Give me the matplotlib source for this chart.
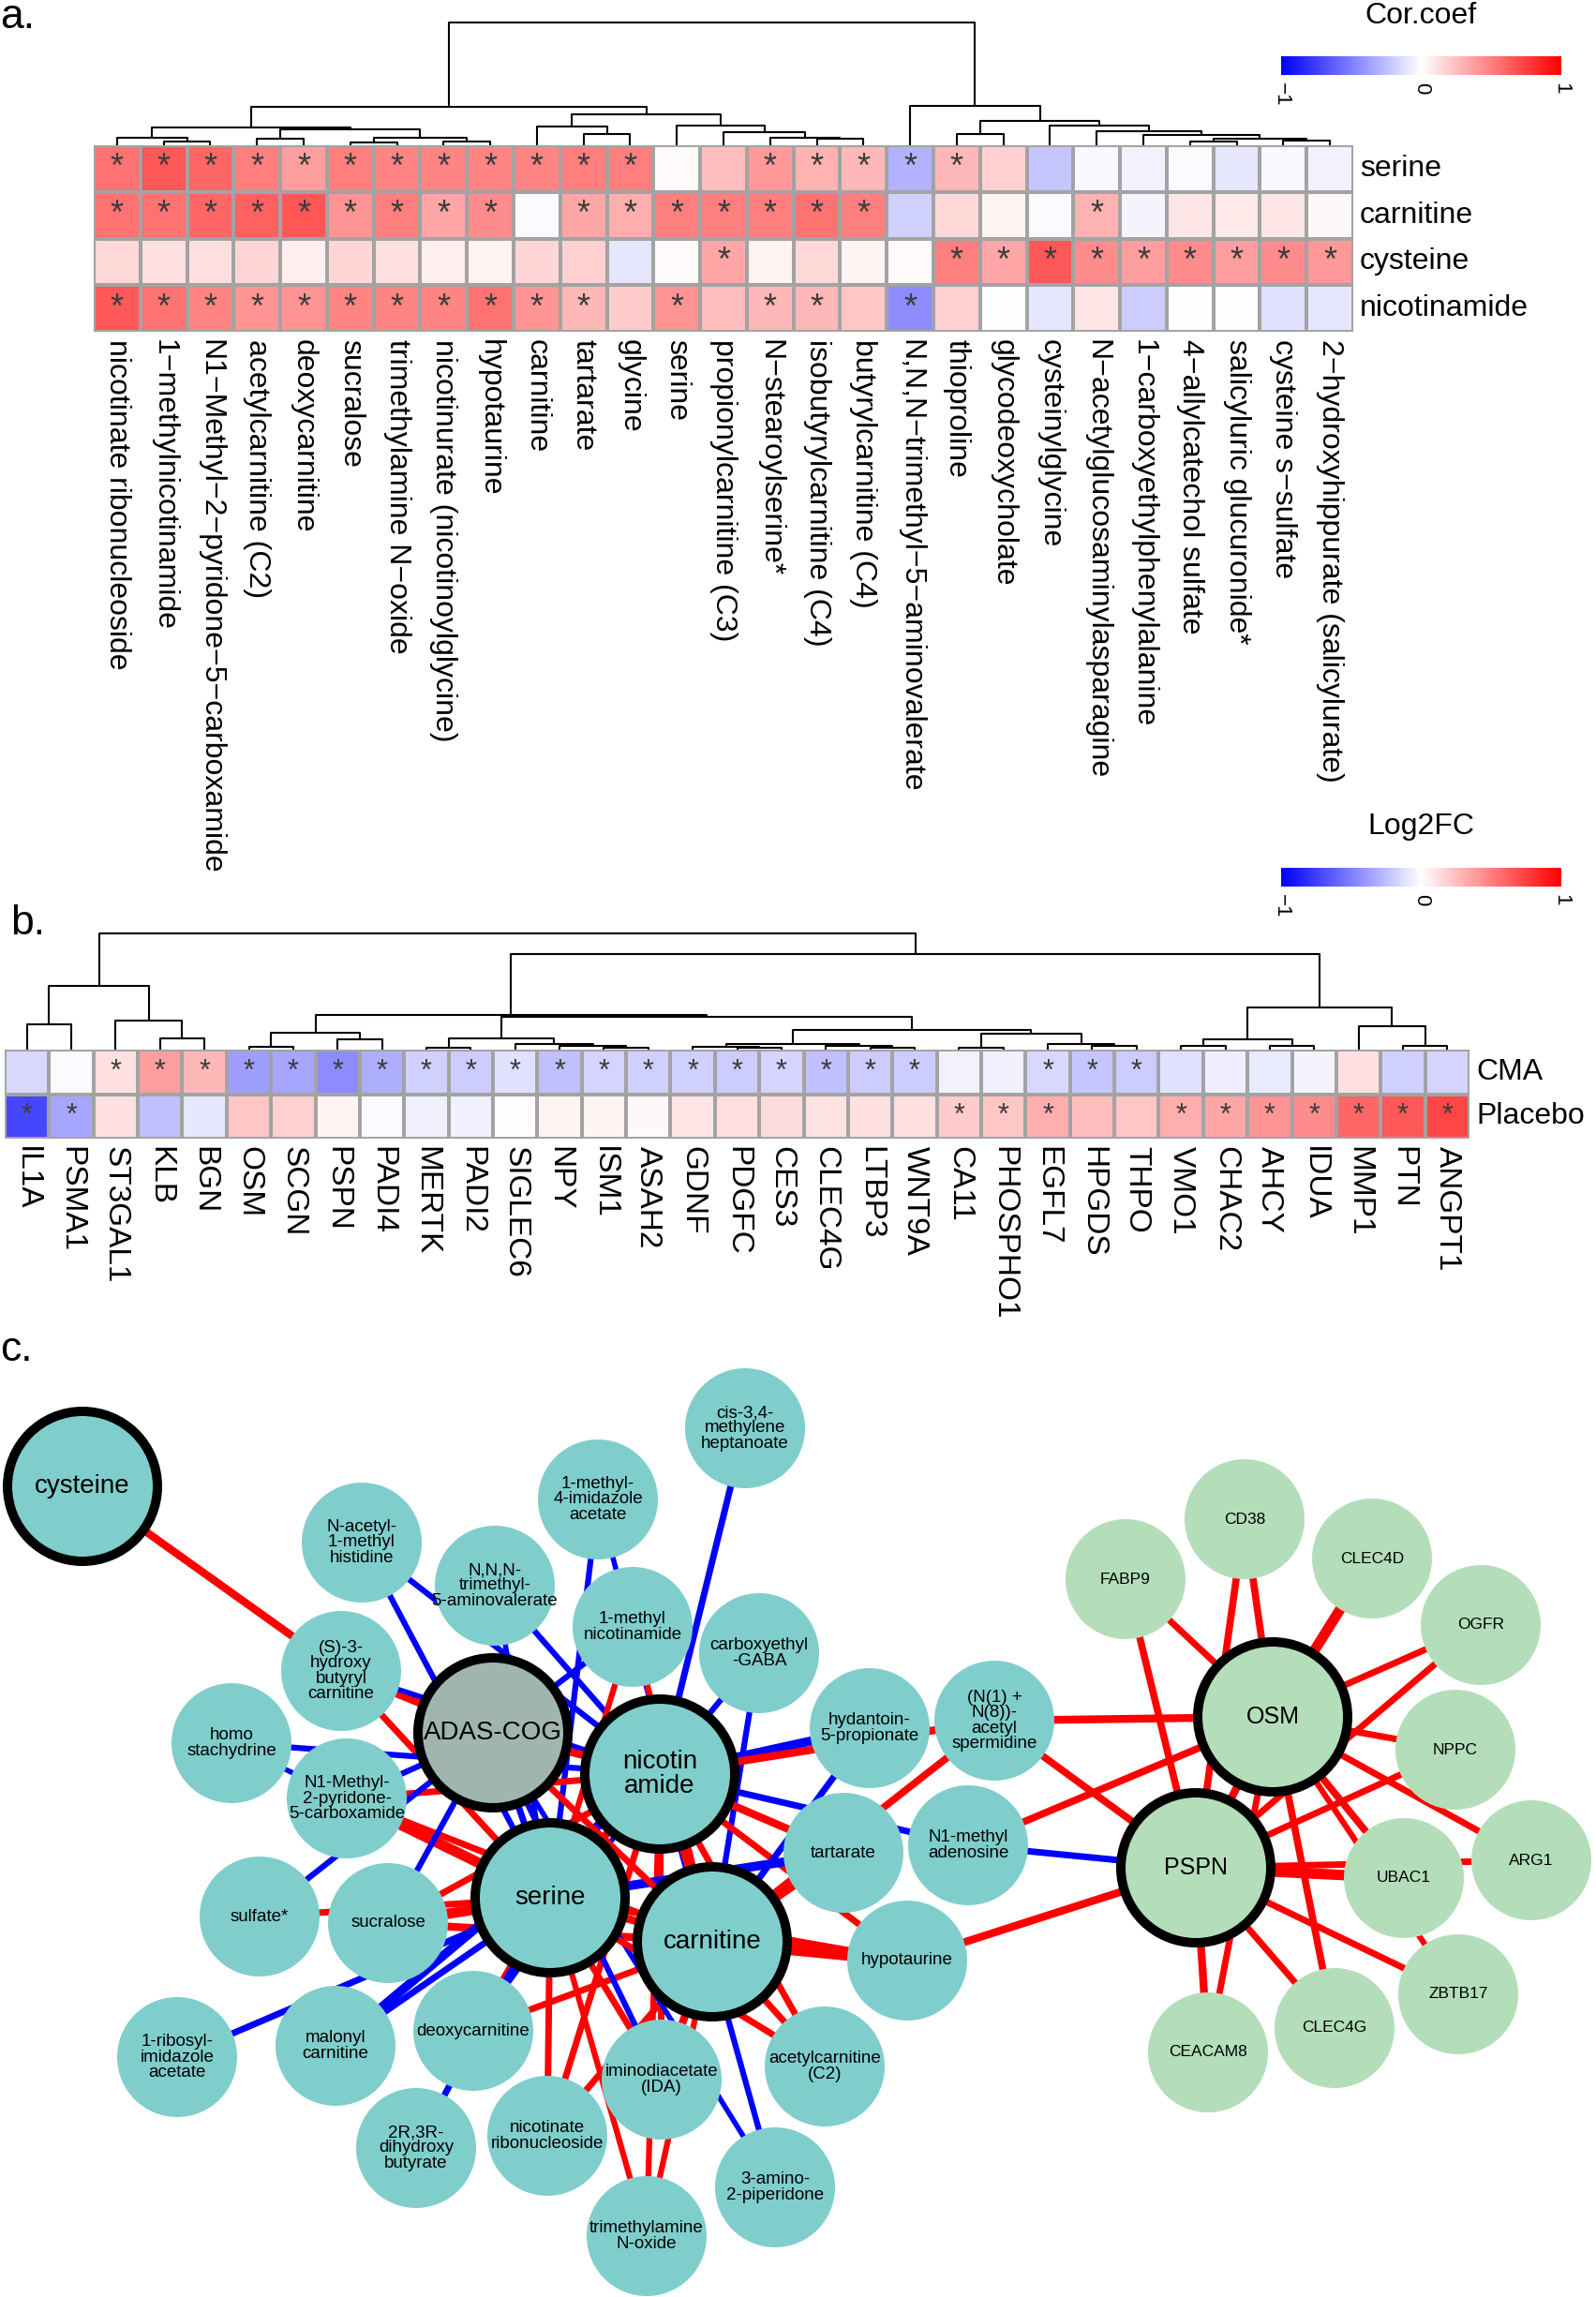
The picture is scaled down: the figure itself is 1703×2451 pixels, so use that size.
import numpy as np
import matplotlib
matplotlib.use("Agg")
import matplotlib.pyplot as plt
import matplotlib.font_manager as fm
from matplotlib.colors import LinearSegmentedColormap
from matplotlib.patches import Circle

plt.rcParams['font.family'] = ['Liberation Sans', 'DejaVu Sans']
_names = {f.name for f in fm.fontManager.ttflist}
NARROW = 'Liberation Sans Narrow' if 'Liberation Sans Narrow' in _names else 'Liberation Sans'
SMALL_FS = 15 if NARROW.endswith('Narrow') else 13.5

# ---------------- panel a data ----------------
a_cols = ["nicotinate ribonucleoside", "1−methylnicotinamide",
          "N1−Methyl−2−pyridone−5−carboxamide", "acetylcarnitine (C2)",
          "deoxycarnitine", "sucralose", "trimethylamine N−oxide",
          "nicotinurate (nicotinoylglycine)", "hypotaurine", "carnitine",
          "tartarate", "glycine", "serine", "propionylcarnitine (C3)",
          "N−stearoylserine*", "isobutyrylcarnitine (C4)", "butyrylcarnitine (C4)",
          "N,N,N−trimethyl−5−aminovalerate", "thioproline", "glycodeoxycholate",
          "cysteinylglycine", "N−acetylglucosaminylasparagine",
          "1−carboxyethylphenylalanine", "4−allylcatechol sulfate",
          "salicyluric glucuronide*", "cysteine s−sulfate",
          "2−hydroxyhippurate (salicylurate)"]
a_rows = ["serine", "carnitine", "cysteine", "nicotinamide"]
a_serine = [0.55, 0.65, 0.60, 0.50, 0.38, 0.50, 0.48, 0.48, 0.48, 0.48, 0.50, 0.50, 0.02,
            0.25, 0.40, 0.30, 0.28, -0.30, 0.28, 0.18, -0.22, -0.03, -0.05, -0.02, -0.10, -0.03, -0.05]
a_carnitine = [0.55, 0.55, 0.60, 0.62, 0.66, 0.42, 0.50, 0.35, 0.45, -0.02, 0.35, 0.32, 0.50,
               0.50, 0.50, 0.55, 0.50, -0.18, 0.15, 0.04, -0.02, 0.30, -0.04, 0.10, 0.08, 0.10, 0.03]
a_cysteine = [0.15, 0.12, 0.13, 0.16, 0.07, 0.16, 0.12, 0.07, 0.05, 0.16, 0.18, -0.10, 0.02,
              0.35, 0.05, 0.15, 0.04, 0.02, 0.50, 0.35, 0.65, 0.45, 0.38, 0.45, 0.38, 0.45, 0.40]
a_nicotinamide = [0.65, 0.55, 0.48, 0.42, 0.42, 0.48, 0.48, 0.48, 0.55, 0.42, 0.28, 0.20, 0.42,
                  0.25, 0.28, 0.28, 0.22, -0.45, 0.18, 0.00, -0.10, 0.10, -0.20, 0.00, 0.00, -0.12, -0.10]
a_stars = ["111111111111001111100000000",
           "111111111011111110000100000",
           "000000000000010000111111111",
           "111111111110101101000000000"]
# merges: (left, right, height); ids >= n are earlier merges
a_merges = [(1, 2, 13), (0, 27, 25), (3, 4, 22), (5, 6, 10), (7, 8, 12), (30, 31, 24),
            (29, 32, 52), (28, 33, 57), (10, 11, 37), (9, 35, 60), (15, 16, 20), (14, 37, 23),
            (13, 38, 43), (12, 39, 62), (36, 40, 100), (34, 41, 124), (18, 19, 37), (23, 24, 12),
            (25, 26, 15), (44, 45, 22), (22, 46, 32), (21, 47, 45), (20, 48, 64), (43, 49, 79),
            (17, 50, 125), (42, 51, 392)]

# ---------------- panel b data ----------------
b_cols = ["IL1A", "PSMA1", "ST3GAL1", "KLB", "BGN", "OSM", "SCGN", "PSPN", "PADI4", "MERTK",
          "PADI2", "SIGLEC6", "NPY", "ISM1", "ASAH2", "GDNF", "PDGFC", "CES3", "CLEC4G",
          "LTBP3", "WNT9A", "CA11", "PHOSPHO1", "EGFL7", "HPGDS", "THPO", "VMO1", "CHAC2",
          "AHCY", "IDUA", "MMP1", "PTN", "ANGPT1"]
b_rows = ["CMA", "Placebo"]
b_cma = [-0.15, -0.02, 0.12, 0.38, 0.28, -0.38, -0.35, -0.45, -0.32, -0.18, -0.20, -0.12,
         -0.25, -0.17, -0.18, -0.18, -0.20, -0.17, -0.25, -0.20, -0.20, -0.05, -0.06, -0.15,
         -0.22, -0.20, -0.12, -0.07, -0.08, -0.04, 0.12, -0.18, -0.17]
b_placebo = [-0.72, -0.35, 0.12, -0.25, -0.10, 0.22, 0.18, 0.04, -0.02, -0.06, -0.06, 0.01,
             0.04, 0.04, 0.03, 0.10, 0.13, 0.14, 0.11, 0.12, 0.12, 0.20, 0.22, 0.32, 0.25,
             0.22, 0.32, 0.35, 0.42, 0.45, 0.60, 0.65, 0.72]
b_stars = ["001111111111111111111001110000000",
           "110000000000000000000111001111111"]
b_merges = [(0, 1, 76), (3, 4, 35), (2, 34, 88), (33, 35, 192), (5, 6, 8), (7, 8, 30),
            (37, 38, 51), (9, 10, 5), (13, 14, 6), (12, 41, 10), (11, 42, 16), (40, 43, 33),
            (16, 17, 6), (15, 45, 8), (19, 20, 6), (18, 47, 10), (46, 48, 18), (21, 22, 6),
            (24, 25, 10), (23, 51, 18), (50, 52, 48), (49, 53, 60), (44, 54, 98), (39, 55, 105),
            (26, 27, 10), (28, 29, 12), (57, 58, 31), (31, 32, 12), (30, 60, 71), (59, 61, 125),
            (56, 62, 286), (36, 63, 348)]

# ---------------- panel c data ----------------
node_labels = {
    "cys": "cysteine", "nac": "N-acetyl-\n1-methyl\nhistidine",
    "nnn": "N,N,N-\ntrimethyl-\n5-aminovalerate", "mia": "1-methyl-\n4-imidazole\nacetate",
    "cis": "cis-3,4-\nmethylene\nheptanoate", "mna": "1-methyl\nnicotinamide",
    "cga": "carboxyethyl\n-GABA", "shb": "(S)-3-\nhydroxy\nbutyryl\ncarnitine",
    "adas": "ADAS-COG", "nam": "nicotin\namide", "hst": "homo\nstachydrine",
    "npc": "N1-Methyl-\n2-pyridone-\n5-carboxamide", "hyd": "hydantoin-\n5-propionate",
    "spd": "(N(1) +\nN(8))-\nacetyl\nspermidine", "nma": "N1-methyl\nadenosine",
    "tar": "tartarate", "ser": "serine", "car": "carnitine", "sul": "sulfate*",
    "suc": "sucralose", "hyp": "hypotaurine", "rib": "1-ribosyl-\nimidazole\nacetate",
    "mal": "malonyl\ncarnitine", "deo": "deoxycarnitine", "ace": "acetylcarnitine\n(C2)",
    "ida": "iminodiacetate\n(IDA)", "dhb": "2R,3R-\ndihydroxy\nbutyrate",
    "nrb": "nicotinate\nribonucleoside", "amp": "3-amino-\n2-piperidone",
    "tmo": "trimethylamine\nN-oxide",
    "osm": "OSM", "pspn": "PSPN", "fabp9": "FABP9", "cd38": "CD38", "clec4d": "CLEC4D",
    "ogfr": "OGFR", "nppc": "NPPC", "arg1": "ARG1", "ubac1": "UBAC1", "zbtb17": "ZBTB17",
    "clec4g": "CLEC4G", "ceacam8": "CEACAM8",
}
hub_nodes = ["cys", "adas", "nam", "ser", "car", "osm", "pspn"]
protein_nodes = ["osm", "pspn", "fabp9", "cd38", "clec4d", "ogfr", "nppc", "arg1",
                 "ubac1", "zbtb17", "clec4g", "ceacam8"]
# (node, node, sign of correlation, edge weight)
edges = [
    ("cys", "shb", 1, 6), ("nac", "nam", -1, 4.5), ("nac", "ser", -1, 4.5),
    ("nnn", "nam", -1, 4.5), ("nnn", "ser", -1, 4), ("mia", "ser", -1, 4.5),
    ("mia", "car", -1, 4), ("cis", "nam", -1, 5), ("cga", "nam", -1, 4.5),
    ("cga", "car", -1, 4.5), ("mna", "adas", -1, 4.5), ("mna", "ser", 1, 4.5),
    ("mna", "car", 1, 4.5), ("shb", "adas", 1, 6), ("shb", "ser", 1, 5),
    ("shb", "nam", -1, 4), ("hst", "nam", -1, 4.5), ("hst", "ser", -1, 4),
    ("npc", "ser", 1, 8), ("npc", "nam", 1, 5), ("npc", "adas", -1, 4.5),
    ("npc", "car", 1, 5), ("sul", "ser", 1, 5), ("sul", "adas", -1, 4.5),
    ("suc", "ser", 1, 8), ("suc", "nam", 1, 5), ("suc", "car", 1, 6),
    ("suc", "adas", -1, 4.5), ("rib", "ser", -1, 5), ("mal", "nam", -1, 7),
    ("mal", "ser", -1, 5), ("deo", "car", 1, 5), ("deo", "ser", 1, 5),
    ("deo", "nam", -1, 4), ("dhb", "ser", -1, 5), ("nrb", "ser", 1, 5),
    ("nrb", "nam", 1, 5), ("nrb", "car", 1, 5), ("ida", "ser", 1, 5),
    ("ida", "car", 1, 6), ("ida", "nam", 1, 5), ("ida", "adas", -1, 4.5),
    ("tmo", "ser", 1, 4.5), ("tmo", "nam", 1, 4.5), ("tmo", "car", 1, 4.5),
    ("amp", "nam", -1, 4.5), ("amp", "adas", -1, 4), ("ace", "car", 1, 5),
    ("ace", "ser", 1, 5), ("ace", "nam", 1, 5), ("hyp", "car", 1, 9),
    ("hyp", "ser", 1, 5), ("hyp", "pspn", 1, 6), ("hyp", "nam", 1, 5),
    ("tar", "car", 1, 5), ("tar", "ser", -1, 7), ("nam", "tar", 1, 6),
    ("nam", "hyd", -1, 7), ("spd", "nam", 1, 6), ("spd", "car", 1, 5.5),
    ("spd", "osm", 1, 6), ("spd", "pspn", 1, 5.5), ("nma", "pspn", -1, 5),
    ("nma", "osm", 1, 5.5), ("nma", "nam", -1, 5), ("hyd", "car", -1, 5),
    ("adas", "ser", -1, 5), ("adas", "nam", 1, 6), ("adas", "car", 1, 5),
    ("ser", "nam", 1, 6), ("ser", "car", 1, 6), ("nam", "car", 1, 6),
    ("osm", "pspn", 1, 6), ("fabp9", "osm", 1, 5), ("fabp9", "pspn", 1, 5.5),
    ("cd38", "osm", 1, 5.5), ("cd38", "pspn", 1, 5.5), ("clec4d", "osm", 1, 8),
    ("ogfr", "osm", 1, 5), ("ogfr", "pspn", 1, 5), ("nppc", "osm", 1, 5),
    ("nppc", "pspn", 1, 5), ("arg1", "osm", 1, 5), ("arg1", "pspn", 1, 5),
    ("ubac1", "osm", 1, 5.5), ("ubac1", "pspn", 1, 8), ("zbtb17", "pspn", 1, 5),
    ("zbtb17", "osm", 1, 4.5), ("clec4g", "osm", 1, 5.5), ("clec4g", "pspn", 1, 5),
    ("ceacam8", "pspn", 1, 6), ("ceacam8", "osm", 1, 5),
]

# network layout (pixel positions of the node centres)
node_xy = {
    "cys": (88, 1586), "nac": (386, 1646), "nnn": (528, 1692), "mia": (638, 1600),
    "cis": (795, 1524), "mna": (675, 1736), "cga": (810, 1764), "shb": (364, 1783),
    "adas": (526, 1849), "nam": (704, 1893), "hst": (247, 1860), "npc": (370, 1919),
    "hyd": (928, 1844), "spd": (1061, 1836), "nma": (1033, 1969), "tar": (900, 1977),
    "ser": (587, 2025), "car": (760, 2072), "sul": (277, 2045), "suc": (414, 2052),
    "hyp": (968, 2092), "rib": (189, 2195), "mal": (358, 2183), "deo": (505, 2167),
    "ace": (880, 2205), "ida": (706, 2219), "dhb": (444, 2292), "nrb": (584, 2279),
    "amp": (827, 2334), "tmo": (690, 2386),
    "osm": (1358, 1832), "pspn": (1276, 1993), "fabp9": (1201, 1685), "cd38": (1328, 1621),
    "clec4d": (1464, 1663), "ogfr": (1580, 1734), "nppc": (1553, 1867), "arg1": (1634, 1985),
    "ubac1": (1498, 2004), "zbtb17": (1556, 2128), "clec4g": (1424, 2164),
    "ceacam8": (1289, 2190),
}

W, H = 1703, 2451
fig = plt.figure(figsize=(W / 100, H / 100), dpi=100)
cmap = LinearSegmentedColormap.from_list("bwr_r", ["#0000FF", "#FFFFFF", "#FF0000"])


def px_axes(x0, y0, x1, y1):
    return fig.add_axes([x0 / W, 1 - y1 / H, (x1 - x0) / W, (y1 - y0) / H])


def draw_dendro(ax, n, merges):
    xs = {i: i + 0.5 for i in range(n)}
    hs = {i: 0.0 for i in range(n)}
    for k, (a, b, h) in enumerate(merges):
        ax.plot([xs[a], xs[a], xs[b], xs[b]], [hs[a], h, h, hs[b]],
                color="black", lw=1.5, clip_on=False)
        xs[n + k] = (xs[a] + xs[b]) / 2
        hs[n + k] = h
    ax.set_xlim(0, n)
    ax.set_ylim(0, merges[-1][2])
    ax.axis("off")


def draw_heat(ax, rows, stars, col_labels, row_labels, col_fs, row_fs, star_fs, gap):
    data = np.array(rows)
    nr, nc = data.shape
    ax.pcolormesh(np.arange(nc + 1), np.arange(nr + 1), data, cmap=cmap, vmin=-1, vmax=1,
                  edgecolors="#a3a3a3", linewidth=1.6)
    ax.set_xlim(0, nc)
    ax.set_ylim(nr, 0)
    ax.axis("off")
    for i in range(nr):
        for j in range(nc):
            if stars[i][j] == "1":
                ax.text(j + 0.5, i + 0.5, "*", ha="center", va="center",
                        fontsize=star_fs, color="#3c3c3c")
    for j, lab in enumerate(col_labels):
        ax.annotate(lab, (j + 0.5, nr), xytext=(0, -gap), textcoords="offset points",
                    rotation=270, ha="center", va="top", fontsize=col_fs)
    for i, lab in enumerate(row_labels):
        ax.annotate(lab, (nc, i + 0.5), xytext=(5, 0), textcoords="offset points",
                    ha="left", va="center", fontsize=row_fs)


def draw_cbar(x0, y0, x1, y1, title, ty):
    ax = px_axes(x0, y0, x1, y1)
    ax.imshow(np.linspace(-1, 1, 256).reshape(1, -1), cmap=cmap, aspect="auto",
              extent=(-1, 1, 0, 1))
    ax.set_xlim(-1, 1)
    ax.axis("off")
    for v, s in [(-1, "−1"), (0, "0"), (1, "1")]:
        ax.annotate(s, (v, 0), xytext=(0, -6), textcoords="offset points",
                    rotation=270, ha="center", va="top", fontsize=16)
    fig.text((x0 + x1) / 2 / W, 1 - ty / H, title, ha="center", va="center",
             fontsize=23)


# panel a
draw_dendro(px_axes(100, 24, 1444, 155), 27, a_merges)
draw_heat(px_axes(100, 155, 1444, 354),
          [a_serine, a_carnitine, a_cysteine, a_nicotinamide], a_stars,
          a_cols, a_rows, 23, 23, 26, 6)
draw_cbar(1367, 60, 1666, 80, "Cor.coef", 17)
fig.text(0, 1 - 30 / H, "a.", fontsize=32, va="baseline", ha="left")

# panel b
draw_dendro(px_axes(5, 996, 1568, 1120), 33, b_merges)
draw_heat(px_axes(5, 1120, 1568, 1215), [b_cma, b_placebo], b_stars,
          b_cols, b_rows, 24, 23, 22, 6)
draw_cbar(1367, 926, 1666, 946, "Log2FC", 882)
fig.text(11 / W, 1 - 997 / H, "b.", fontsize=32, va="baseline", ha="left")

# panel c: network
axn = px_axes(0, 1400, W, H)
axn.set_xlim(0, W)
axn.set_ylim(H, 1400)
axn.axis("off")
fig.text(0, 1 - 1452 / H, "c.", fontsize=32, va="baseline", ha="left")

for a, b, sign, w in edges:
    (x1, y1), (x2, y2) = node_xy[a], node_xy[b]
    axn.plot([x1, x2], [y1, y2], color="#FF0000" if sign > 0 else "#0000FF",
             lw=w, solid_capstyle="butt", zorder=1)

for key, (x, y) in node_xy.items():
    green = key in protein_nodes
    face = "#B3DEB9" if green else "#7FCECC"
    if key == "adas":
        face = "#A0B5AF"
    if key in hub_nodes:
        axn.add_patch(Circle((x, y), 80, facecolor=face, edgecolor="black",
                             linewidth=7.2, zorder=2))
        fs = 18 if green else 20
        axn.text(x, y, node_labels[key], ha="center", va="center", fontsize=fs,
                 linespacing=1.0, zorder=3)
    else:
        axn.add_patch(Circle((x, y), 64, facecolor=face, edgecolor="none", zorder=2))
        if green:
            axn.text(x, y, node_labels[key], ha="center", va="center", fontsize=12.5,
                     zorder=3)
        else:
            axn.text(x, y, node_labels[key], ha="center", va="center", fontsize=SMALL_FS,
                     family=[NARROW, "Liberation Sans", "DejaVu Sans"],
                     linespacing=0.95, zorder=3)

fig.savefig("out.png", dpi=100)
